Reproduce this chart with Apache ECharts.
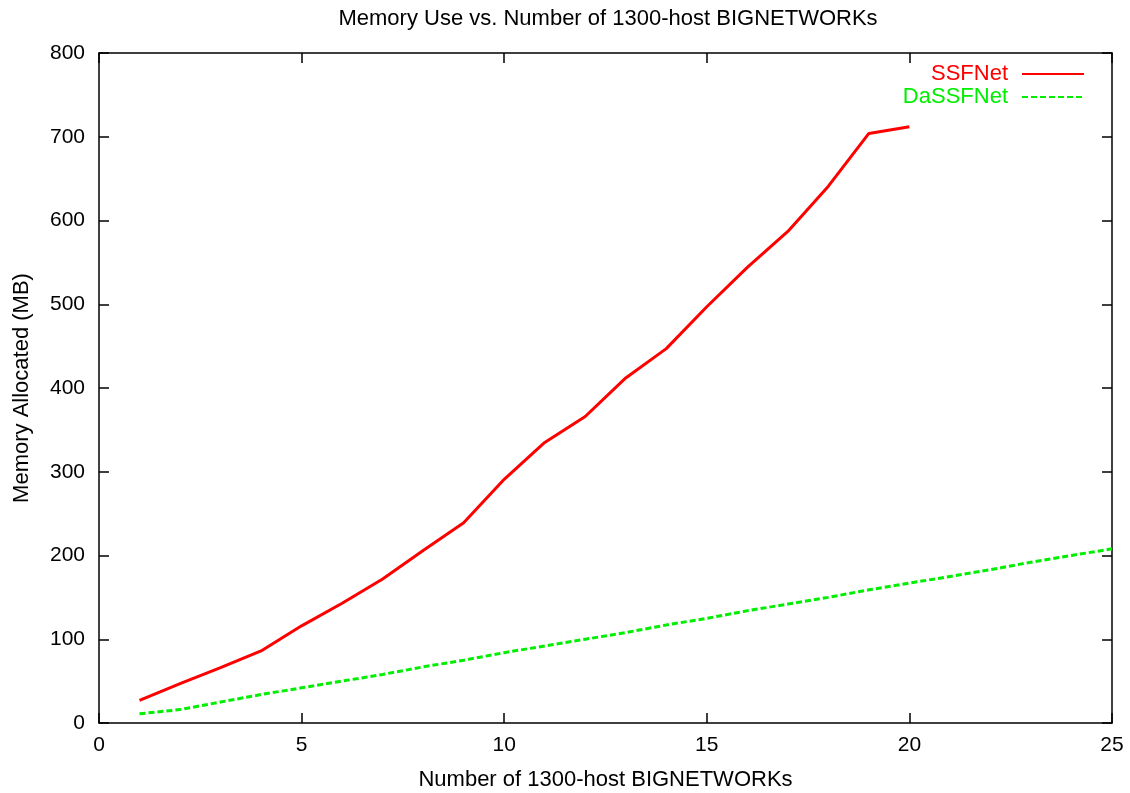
<!DOCTYPE html>
<html>
<head>
<meta charset="utf-8">
<script src="https://cdn.jsdelivr.net/npm/echarts@6/dist/echarts.min.js"></script>
<style>
html,body{margin:0;padding:0;background:#fff;}
#chart{width:1130px;height:793px;}
</style>
</head>
<body>
<div id="chart"></div>
<script>
// 数据
var ssfX = [1, 2, 3, 4, 5, 6, 7, 8, 9, 10, 11, 12, 13, 14, 15, 16, 17, 18, 19, 20];
var ssfY = [27, 47, 66, 86, 116, 143, 172, 206, 239, 291, 335, 366, 412, 447, 497, 544, 587, 641, 704, 712];
var dasX = [1, 2, 3, 4, 5, 6, 7, 8, 9, 10, 11, 12, 13, 14, 15, 16, 17, 18, 19, 20, 21, 22, 23, 24, 25];
var dasY = [11, 16, 25, 34, 42, 50, 58, 67, 75, 84, 92, 100, 108, 117, 125, 134, 142, 150, 159, 167, 175, 183, 192, 200, 208];
var seriesNames = ['SSFNet', 'DaSSFNet'];

function pairs(xs, ys){
    var out = [];
    for (var i = 0; i < xs.length; i++) out.push([xs[i], ys[i]]);
    return out;
}

(function(){
    var myChart = echarts.init(document.getElementById('chart'));
    var font = 'Liberation Sans, Arial, sans-serif';
    // 边框 + 向内的刻度（上下左右都有）
    function frame(){
        return {
            axisLine: {show: true, onZero: false, lineStyle: {color: '#000', width: 1.5}},
            axisTick: {show: true, inside: true, length: 10, lineStyle: {color: '#000', width: 1.5}},
            splitLine: {show: false}
        };
    }
    var option = {
        backgroundColor: '#fff',
        animation: false,
        title: {
            text: 'Memory Use vs. Number of 1300-host BIGNETWORKs',
            left: 603,
            textAlign: 'center',
            top: 3,
            textStyle: {fontFamily: font, fontSize: 22, fontWeight: 'normal', color: '#000'}
        },
        legend: {
            orient: 'vertical',
            right: 40,
            top: 58,
            align: 'right',
            itemWidth: 62,
            itemHeight: 14,
            itemGap: 1,
            itemStyle: {opacity: 0},
            data: [
                {name: seriesNames[0], textStyle: {color: '#ff0000'}},
                {name: seriesNames[1], textStyle: {color: '#00ee00'}}
            ],
            textStyle: {fontFamily: font, fontSize: 22, padding: [0, 9, 0, 0]}
        },
        grid: {left: 99, right: 18, top: 53, bottom: 70, outerBoundsMode: 'none'},
        xAxis: [
            Object.assign({
                type: 'value', min: 0, max: 25, interval: 5,
                name: 'Number of 1300-host BIGNETWORKs',
                nameLocation: 'middle', nameGap: 46,
                nameTextStyle: {fontFamily: font, fontSize: 22, color: '#000'},
                axisLabel: {fontFamily: font, fontSize: 21, color: '#000', margin: 12}
            }, frame()),
            Object.assign({
                type: 'value', min: 0, max: 25, interval: 5, position: 'top',
                axisLabel: {show: false}
            }, frame())
        ],
        yAxis: [
            Object.assign({
                type: 'value', min: 0, max: 800, interval: 100,
                name: 'Memory Allocated (MB)',
                nameLocation: 'middle', nameGap: 66,
                nameTextStyle: {fontFamily: font, fontSize: 22, color: '#000'},
                axisLabel: {fontFamily: font, fontSize: 21, color: '#000', margin: 14}
            }, frame()),
            Object.assign({
                type: 'value', min: 0, max: 800, interval: 100, position: 'right',
                axisLabel: {show: false}
            }, frame())
        ],
        series: [
            {
                name: seriesNames[0],
                type: 'line',
                data: pairs(ssfX, ssfY),
                symbol: 'none',
                color: '#ff0000',
                lineStyle: {color: '#ff0000', width: 3}
            },
            {
                name: seriesNames[1],
                type: 'line',
                data: pairs(dasX, dasY),
                symbol: 'none',
                color: '#00ee00',
                lineStyle: {color: '#00ee00', width: 3, type: [6, 3]}
            }
        ]
    };
    myChart.setOption(option);
    window.addEventListener('resize', function(){
        myChart.resize();
    });
})();
</script>
</body>
</html>
